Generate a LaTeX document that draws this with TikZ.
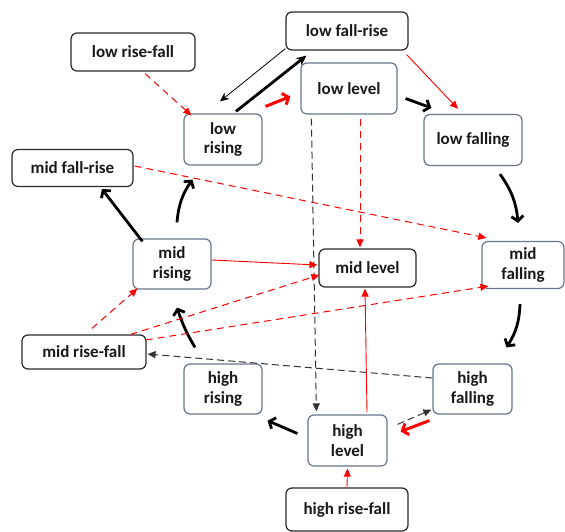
\documentclass[tikz,border=0pt]{standalone}
\usepackage{fontspec}
\setmainfont{Carlito}
\usetikzlibrary{arrows.meta,calc}
\definecolor{boxgray}{RGB}{105,118,138}
\definecolor{boxdark}{RGB}{40,40,40}
\definecolor{txt}{RGB}{25,25,25}
\begin{document}
\begin{tikzpicture}[x=1pt,y=-1pt,
  box/.style={draw=boxgray, line width=1.2pt, rounded corners=6pt, fill=white,
    align=center, inner sep=0pt, text=txt,
    font=\fontsize{17}{19.5}\selectfont\bfseries},
  dbox/.style={box, draw=boxdark},
  thk/.style={line width=2.8pt, -{Straight Barb[length=5pt,width=12pt]}},
  stl/.style={-{Stealth[length=10pt,width=9pt]}},
  thin1/.style={line width=0.8pt, -{Stealth[length=9pt,width=8pt]}},
  redthk/.style={red, line width=3pt, -{Straight Barb[length=5pt,width=12pt]}},
  redln/.style={red, line width=0.9pt, -{Triangle[length=8pt,width=7pt]}},
  reddash/.style={red, line width=1pt, dash pattern=on 7pt off 5pt, -{Triangle[length=8pt,width=7pt]}},
  blkdash/.style={black!80, line width=1pt, dash pattern=on 7pt off 4pt, -{Triangle[length=8pt,width=7pt]}}
]
\useasboundingbox (0,0) rectangle (565,532);
\node[dbox, minimum width=122pt, minimum height=38pt] (lfr) at (347,31) {low fall-rise};
\node[dbox, minimum width=124pt, minimum height=38pt] (lrf) at (133,52) {low rise-fall};
\node[box, minimum width=96pt, minimum height=51pt] (ll) at (349,88.5) {low level};
\node[box, minimum width=78pt, minimum height=51pt] (lr) at (223,139.5) {low\\rising};
\node[box, minimum width=98pt, minimum height=51pt] (lf) at (473,140) {low falling};
\node[dbox, minimum width=121pt, minimum height=37pt] (mfr) at (72.5,168) {mid fall-rise};
\node[box, minimum width=78pt, minimum height=50pt] (mr) at (172,264) {mid\\rising};
\node[dbox, minimum width=97pt, minimum height=38pt] (ml) at (367.5,268) {mid level};
\node[box, minimum width=82pt, minimum height=47pt] (mf) at (523,265) {mid\\falling};
\node[dbox, minimum width=124pt, minimum height=34pt] (mrf) at (84,352) {mid rise-fall};
\node[box, minimum width=78pt, minimum height=50pt] (hr) at (223,389) {high\\rising};
\node[box, minimum width=79pt, minimum height=50pt] (hf) at (472.5,389) {high\\falling};
\node[box, minimum width=79pt, minimum height=51pt] (hl) at (347.5,440.5) {high\\level};
\node[dbox, minimum width=122pt, minimum height=43pt] (hrf) at (347,509.5) {high rise-fall};

% edges
\draw[thin1] ($(lfr.south west)+(0,-2)$) -- ($(lr.north)+(-3,-12)$);
\draw[line width=2.8pt, stl] ($(lr.north)+(13,-2)$) -- ($(lfr.south west)+(21,5)$);
\draw[redthk] ($(lr.north east)+(3,-7)$) -- ($(ll.west)+(-10,8)$);
\draw[thk] ($(ll.east)+(8,10)$) -- ($(lf.north west)+(8,-6)$);
\draw[redln] ($(lfr.south east)+(-2,4)$) -- ($(lf.north)+(-15,-5)$);
\draw[reddash] ($(lrf.south)+(12,2)$) -- ($(lr.north west)+(8,2)$);
\draw[reddash] ($(mfr.east)+(1,-2)$) -- ($(mf.north west)+(5,-3)$);
\draw[reddash] ($(ll.south)+(11,4)$) -- ($(ml.north)+(-7.5,-1)$);
\draw[blkdash] ($(ll.south west)+(11,4)$) -- ($(hl.north west)+(9,-3)$);
\draw[thk] ($(lf.south)+(27,8)$) to[bend left=15] ($(mf.north)+(-5,-18)$);
\draw[thk] ($(mf.south)+(-3,15)$) to[bend left=15] ($(hf.north)+(34,-16)$);
\draw[blkdash] ($(hl.north east)+(10,10)$) -- ($(hf.south west)+(-1,-5)$);
\draw[redthk] ($(hf.south west)+(-3,6)$) -- ($(hl.east)+(13,-9)$);
\draw[thk] ($(hl.west)+(-10,-7)$) -- ($(hr.south east)+(5,6)$);
\draw[redln] (hrf.north) -- ($(hl.south)+(0,2)$);
\draw[redln] ($(hl.north)+(19.5,-2)$) -- ($(ml.south)+(-2.5,1)$);
\draw[blkdash] ($(hf.west)+(0,-11)$) -- ($(mrf.east)+(1,2)$);
\draw[thk] ($(hr.north)+(-28,-16)$) to[bend left=6] ($(mr.south)+(5,18)$);
\draw[thk] ($(mr.north west)+(10,3)$) -- ($(mfr.south)+(29.5,2)$);
\draw[thk] ($(mr.north)+(5,-16)$) to[bend left=15] ($(lr.south)+(-30.5,14)$);
\draw[redln] ($(mr.east)+(0,-4)$) -- ($(ml.west)+(-1,-3)$);
\draw[reddash] ($(mrf.north)+(8,-6)$) -- ($(mr.south west)+(5,-1)$);
\draw[reddash] ($(mrf.north east)+(-16,0)$) -- ($(ml.west)+(1,7)$);
\draw[reddash] ($(mrf.east)+(-1,-12)$) -- ($(mf.south west)+(7,-3)$);
\end{tikzpicture}
\end{document}
